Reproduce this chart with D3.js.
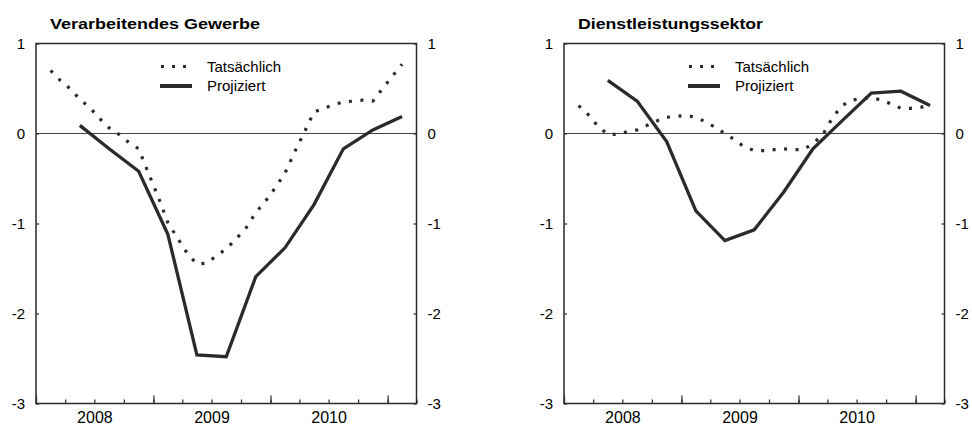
<!DOCTYPE html>
<html>
<head>
<meta charset="utf-8">
<script src="https://cdn.jsdelivr.net/npm/d3@7"></script>
<style>
  body { margin: 0; background: #fff; }
  svg { display: block; font-family: "Liberation Sans", Arial, sans-serif; }
</style>
</head>
<body>
<script>
const w = 972;
const h = 426;

// months of the actual series (Feb 2008 .. Feb 2011)
const actualMonths = ["2008-02","2008-03","2008-04","2008-05","2008-06","2008-07","2008-08","2008-09","2008-10","2008-11","2008-12",
  "2009-01","2009-02","2009-03","2009-04","2009-05","2009-06","2009-07","2009-08","2009-09","2009-10","2009-11","2009-12",
  "2010-01","2010-02","2010-03","2010-04","2010-05","2010-06","2010-07","2010-08","2010-09","2010-10","2010-11","2010-12",
  "2011-01","2011-02"];
// quarters of the projected series
const projQuarters = ["2008Q2","2008Q3","2008Q4","2009Q1","2009Q2","2009Q3","2009Q4","2010Q1","2010Q2","2010Q3","2010Q4","2011Q1"];

const yearLabels = ["2008", "2009", "2010"];
const yTicks = [-3, -2, -1, 0, 1];
const legendLabels = ["Tatsächlich", "Projiziert"];
const titles = ["Verarbeitendes Gewerbe", "Dienstleistungssektor"];
const titleWidths = [210, 185];

const mfgActual = [0.70, 0.59, 0.50, 0.38, 0.29, 0.17, 0.06, -0.01, -0.10, -0.17, -0.44,
  -0.71, -0.99, -1.16, -1.33, -1.45, -1.44, -1.36, -1.28, -1.17, -1.05, -0.88, -0.75,
  -0.60, -0.44, -0.21, 0.01, 0.24, 0.28, 0.32, 0.35, 0.36, 0.37, 0.36, 0.50,
  0.64, 0.77];
const mfgProj = [0.09, -0.17, -0.42, -1.12, -2.46, -2.48, -1.59, -1.27, -0.79, -0.17, 0.04, 0.19];

const svcActual = [0.31, 0.21, 0.08, -0.01, -0.01, 0.02, 0.04, 0.09, 0.14, 0.18, 0.19,
  0.20, 0.18, 0.13, 0.07, 0.00, -0.07, -0.15, -0.19, -0.19, -0.18, -0.17, -0.18,
  -0.18, -0.11, -0.02, 0.17, 0.31, 0.37, 0.39, 0.40, 0.37, 0.33, 0.28, 0.28,
  0.29, 0.32];
const svcProj = [0.59, 0.36, -0.09, -0.86, -1.19, -1.07, -0.65, -0.17, 0.14, 0.45, 0.47, 0.31];

const ink = "#2b2b2b";
const plotTop = 43.5, plotBottom = 403.5, pw = 380.5;

// middle of a month / quarter as a date
const midMonth = s => {
  const [y, m] = s.split("-").map(Number);
  const a = new Date(y, m - 1, 1), b = new Date(y, m, 1);
  return new Date((+a + +b) / 2);
};
const midQuarter = s => {
  const y = +s.slice(0, 4), q = +s.slice(5);
  const a = new Date(y, (q - 1) * 3, 1), b = new Date(y, q * 3, 1);
  return new Date((+a + +b) / 2);
};

const svg = d3.select("body").append("svg")
  .attr("width", w)
  .attr("height", h);

svg.append("rect").attr("width", w).attr("height", h).attr("fill", "#fff");

function panel(x0, title, tw, actual, proj) {
  const x = d3.scaleTime()
    .domain([new Date(2008, 0, 1), new Date(2011, 3, 1)])
    .range([x0, x0 + pw]);
  const y = d3.scaleLinear().domain([-3, 1]).range([plotBottom, plotTop]);

  const g = svg.append("g");

  // zero line
  g.append("line")
    .attr("x1", x0).attr("x2", x0 + pw)
    .attr("y1", y(0)).attr("y2", y(0))
    .attr("stroke", "#444").attr("stroke-width", 1);

  // quarter ticks (inward)
  g.append("g")
    .attr("transform", `translate(0,${plotBottom})`)
    .call(d3.axisBottom(x).ticks(d3.timeMonth.every(3)).tickSize(-4).tickFormat(""))
    .call(a => a.select(".domain").remove());
  // year ticks
  g.append("g")
    .attr("transform", `translate(0,${plotBottom})`)
    .call(d3.axisBottom(x).ticks(d3.timeYear.every(1)).tickSize(-8).tickFormat(""))
    .call(a => a.select(".domain").remove());
  // year labels in the middle of each year
  const yrAxis = g.append("g")
    .attr("transform", `translate(0,${plotBottom})`)
    .call(d3.axisBottom(x)
      .tickValues(yearLabels.map(s => new Date(+s, 6, 1)))
      .tickSize(0).tickPadding(8)
      .tickFormat((d, i) => yearLabels[i]))
    .call(a => a.select(".domain").remove());

  g.append("g")
    .attr("transform", `translate(${x0},0)`)
    .call(d3.axisLeft(y).tickValues(yTicks).tickSize(-3).tickPadding(11).tickFormat(d => String(d)))
    .call(a => a.select(".domain").remove());
  g.append("g")
    .attr("transform", `translate(${x0 + pw},0)`)
    .call(d3.axisRight(y).tickValues(yTicks).tickSize(-3).tickPadding(11).tickFormat(d => String(d)))
    .call(a => a.select(".domain").remove());

  g.selectAll(".tick line").attr("stroke", ink).attr("stroke-width", 1.2);
  g.selectAll(".tick text").attr("font-size", 15).attr("fill", "#000")
    .attr("font-family", "'Liberation Sans', Arial, sans-serif");
  yrAxis.selectAll("text").attr("font-size", 16);

  // frame
  g.append("rect")
    .attr("x", x0).attr("y", plotTop)
    .attr("width", pw).attr("height", plotBottom - plotTop)
    .attr("fill", "none").attr("stroke", ink).attr("stroke-width", 1.5);

  const line = d3.line().x(d => x(d[0])).y(d => y(d[1]));

  g.append("path")
    .datum(actualMonths.map((m, i) => [midMonth(m), actual[i]]))
    .attr("d", line)
    .attr("fill", "none").attr("stroke", ink)
    .attr("stroke-width", 3.2).attr("stroke-dasharray", "3,8.5");

  g.append("path")
    .datum(projQuarters.map((q, i) => [midQuarter(q), proj[i]]))
    .attr("d", line)
    .attr("fill", "none").attr("stroke", ink)
    .attr("stroke-width", 3.3).attr("stroke-linejoin", "miter");

  // legend
  const lx = x0 + 125;
  g.append("line")
    .attr("x1", lx).attr("x2", lx + 27).attr("y1", 66.5).attr("y2", 66.5)
    .attr("stroke", ink).attr("stroke-width", 3.2).attr("stroke-dasharray", "3,8");
  g.append("line")
    .attr("x1", lx - 1).attr("x2", lx + 31).attr("y1", 86).attr("y2", 86)
    .attr("stroke", ink).attr("stroke-width", 4);
  g.selectAll(".leg")
    .data(legendLabels)
    .enter()
    .append("text")
    .attr("x", lx + 46)
    .attr("y", (d, i) => 71.5 + i * 19.5)
    .attr("font-size", 15)
    .text(d => d);

  svg.append("text")
    .attr("x", x0 + 14).attr("y", 29)
    .attr("font-size", 15).attr("font-weight", "bold")
    .attr("textLength", tw).attr("lengthAdjust", "spacingAndGlyphs")
    .text(title);
}

panel(36, titles[0], titleWidths[0], mfgActual, mfgProj);
panel(564, titles[1], titleWidths[1], svcActual, svcProj);
</script>
</body>
</html>
